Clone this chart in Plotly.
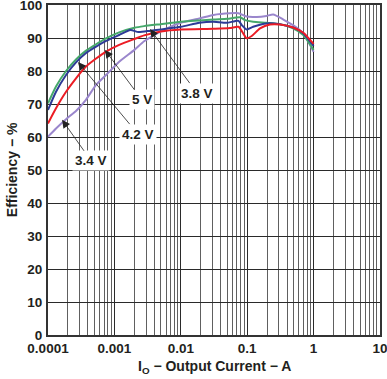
import plotly.graph_objects as go
import math

# ---- data ----
red_i = [1e-4, 1.32e-4, 1.87e-4, 2.64e-4, 3.7e-4, 5.3e-4, 7.5e-4, 1.18e-3, 2e-3, 2.8e-3, 5e-3,
         0.01, 0.031, 0.055, 0.074, 0.087, 0.098, 0.117, 0.156, 0.22, 0.31, 0.49, 0.70, 1.0]
red_eff = [64.1, 68.7, 73.7, 77.8, 81.3, 83.8, 85.9, 87.9, 89.7, 90.8, 92.0,
           92.6, 92.8, 93.0, 93.4, 91.4, 89.9, 90.6, 92.9, 94.1, 94.1, 93.2, 91.6, 88.2]

blue_i = [1e-4, 1.32e-4, 1.87e-4, 2.64e-4, 3.7e-4, 5.3e-4, 7.5e-4, 1.18e-3, 1.74e-3, 2.3e-3, 3.5e-3,
          0.01, 0.019, 0.031, 0.049, 0.074, 0.083, 0.098, 0.123, 0.195, 0.31, 0.49, 0.70, 1.0]
blue_eff = [68.2, 73.7, 78.8, 82.6, 85.4, 87.4, 89.1, 90.9, 92.4, 91.8, 92.2,
            93.4, 94.6, 94.9, 94.6, 95.2, 93.9, 92.6, 93.4, 94.4, 94.2, 93.2, 91.4, 87.6]

green_i = [1e-4, 1.32e-4, 1.87e-4, 2.64e-4, 3.7e-4, 5.3e-4, 7.5e-4, 1.18e-3, 2e-3, 2.8e-3, 5e-3,
           0.01, 0.031, 0.05, 0.078, 0.093, 0.123, 0.195, 0.31, 0.49, 0.70, 1.0]
green_eff = [70.2, 75.3, 80.0, 83.5, 86.1, 88.1, 89.9, 91.7, 93.1, 93.6, 94.2,
             94.9, 95.6, 95.8, 96.3, 95.4, 94.9, 94.6, 94.2, 92.9, 90.9, 86.4]

purple_i = [1e-4, 1.32e-4, 1.87e-4, 2.64e-4, 3.7e-4, 5.3e-4, 7.5e-4, 1.18e-3, 2e-3, 2.8e-3, 3.9e-3, 6.3e-3,
            0.01, 0.019, 0.031, 0.055, 0.074, 0.098, 0.139, 0.195, 0.246, 0.35, 0.49, 0.70, 1.0]
purple_eff = [60.1, 62.6, 65.4, 67.9, 71.2, 75.8, 78.8, 82.8, 86.4, 89.0, 90.8, 93.0,
              94.6, 95.9, 97.0, 97.5, 97.5, 96.5, 96.4, 96.7, 97.1, 95.6, 93.9, 91.4, 85.8]

x_ticks = [0.0001, 0.001, 0.01, 0.1, 1, 10]
x_tick_labels = ["0.0001", "0.001", "0.01", "0.1", "1", "10"]
y_ticks = list(range(0, 101, 10))

labels = ["5 V", "4.2 V", "3.8 V", "3.4 V"]
label_target_i = [7.2e-4, 2.83e-4, 3.44e-3, 1.63e-4]
label_target_eff = [86.4, 82.7, 92.7, 65.2]

x_title = "I<sub>O</sub> − Output Current − A"
y_title = "Efficiency − %"

# ---- figure ----
FONT = "Liberation Sans, Arial, sans-serif"
TXT = "#231f20"

fig = go.Figure()
series = [
    (purple_i, purple_eff, "#9a86cc"),
    (green_i, green_eff, "#45a86a"),
    (blue_i, blue_eff, "#2d3a96"),
    (red_i, red_eff, "#ec1c24"),
]
for xi, yi, col in series:
    fig.add_trace(go.Scatter(x=xi, y=yi, mode="lines",
                             line=dict(color=col, width=2, shape="spline", smoothing=0.6),
                             showlegend=False, hoverinfo="skip"))

minor_vals = [m * 10 ** e for e in range(-4, 1) for m in range(2, 10)]

fig.update_xaxes(type="log", range=[-4, 1], tickmode="array", tickvals=x_ticks,
                 ticktext=[f"<b>{t}</b>" for t in x_tick_labels],
                 showgrid=True, gridcolor="#2a2a2a", gridwidth=1,
                 minor=dict(tickmode="array", tickvals=minor_vals, showgrid=True,
                            gridcolor="#606060", gridwidth=1),
                 showline=True, linecolor="#333333", linewidth=2, mirror=True,
                 ticks="", zeroline=False, automargin=False,
                 ticklabeloverflow="allow",
                 tickfont=dict(family=FONT, size=13.5, color=TXT))
fig.update_yaxes(range=[0, 100], tickmode="array", tickvals=y_ticks,
                 ticktext=[f"<b>{v}</b>" for v in y_ticks],
                 showgrid=True, gridcolor="#2a2a2a", gridwidth=1,
                 showline=True, linecolor="#333333", linewidth=2, mirror=True,
                 ticks="outside", ticklen=1, tickcolor="rgba(0,0,0,0)",
                 zeroline=False, automargin=False,
                 ticklabeloverflow="allow",
                 tickfont=dict(family=FONT, size=13.5, color=TXT))

# axis titles
fig.add_annotation(text=f"<b>{x_title}</b>", xref="paper", yref="paper",
                   x=0.5, y=-0.098, xanchor="center", yanchor="middle", showarrow=False,
                   font=dict(family=FONT, size=14, color=TXT))
fig.add_annotation(text=f"<b>{y_title}</b>", xref="paper", yref="paper",
                   x=-0.108, y=0.5, xanchor="center", yanchor="middle", showarrow=False,
                   textangle=-90, font=dict(family=FONT, size=14, color=TXT))

offsets = [(37, 50), (60, 72), (47, 64), (29, 41)]
for lab, ti, te, (ax, ay) in zip(labels, label_target_i, label_target_eff, offsets):
    fig.add_annotation(x=math.log10(ti), y=te, text=f"<b>{lab}</b>",
                       showarrow=True, ax=ax, ay=ay, arrowhead=2, arrowsize=2,
                       arrowwidth=0.8, arrowcolor="#222222",
                       bgcolor="white", borderpad=2,
                       font=dict(family=FONT, size=13.5, color=TXT))

fig.update_layout(width=387, height=379, margin=dict(l=48, r=7, t=5, b=44),
                  paper_bgcolor="white", plot_bgcolor="white")

fig.write_html("out.html", config={"displayModeBar": False},
               post_script="document.body.style.margin='0px';document.body.style.overflow='hidden';")
